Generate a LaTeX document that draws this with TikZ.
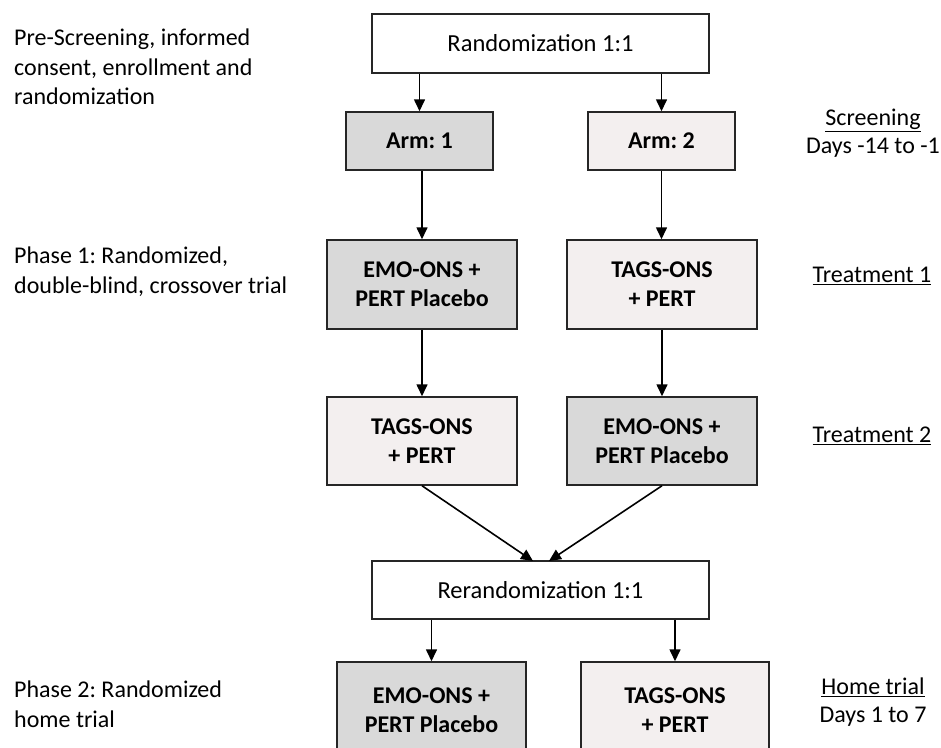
\documentclass[tikz,border=0pt]{standalone}
\usepackage{fontspec}
\setmainfont{Carlito}
\usetikzlibrary{arrows.meta}
\definecolor{darkfill}{HTML}{D9D9D9}
\definecolor{lightfill}{HTML}{F3EFEF}
\frenchspacing
\begin{document}
\begin{tikzpicture}[x=1pt,y=-1pt,
  box/.style={draw=black!85, line width=1.5pt, rectangle, align=center, inner sep=0pt},
  plainbox/.style={box, fill=white, font=\frenchspacing\fontsize{24.5}{29}\selectfont},
  armbox/.style={box, font=\frenchspacing\bfseries\fontsize{24}{29}\selectfont},
  lbl/.style={align=left, anchor=west, inner sep=0pt, font=\frenchspacing\fontsize{24}{29.5}\selectfont},
  rlbl/.style={align=center, inner sep=0pt, font=\frenchspacing\fontsize{24}{28}\selectfont},
  arr/.style={draw=black, line width=1.6pt, -{Triangle[length=12pt,width=11pt]}}]
\useasboundingbox (0,0) rectangle (941,747);
\clip (0,0) rectangle (941,747);
\fill[white] (0,0) rectangle (941,747);

% main boxes
\node[plainbox, minimum width=337pt, minimum height=59pt] (rand) at (540.5,43.5) {Randomization 1:1};
\node[armbox, fill=darkfill, minimum width=147pt, minimum height=58pt] (arm1) at (419.5,141) {Arm: 1};
\node[armbox, fill=lightfill, minimum width=147pt, minimum height=58pt] (arm2) at (661.5,141) {Arm: 2};
\node[armbox, fill=darkfill, minimum width=190pt, minimum height=89pt] (t1l) at (422,284.5) {EMO-ONS +\\PERT Placebo};
\node[armbox, fill=lightfill, minimum width=190pt, minimum height=89pt] (t1r) at (662,284.5) {TAGS-ONS\\+ PERT};
\node[armbox, fill=lightfill, minimum width=190pt, minimum height=88pt] (t2l) at (422,441) {TAGS-ONS\\+ PERT};
\node[armbox, fill=darkfill, minimum width=190pt, minimum height=88pt] (t2r) at (662,441) {EMO-ONS +\\PERT Placebo};
\node[plainbox, minimum width=337pt, minimum height=58pt] (rerand) at (540.5,590) {Rerandomization 1:1};
\node[armbox, fill=darkfill, minimum width=189pt, minimum height=96pt] (hl) at (431.5,710) {EMO-ONS +\\PERT Placebo};
\node[armbox, fill=lightfill, minimum width=188pt, minimum height=96pt] (hr) at (675,710) {TAGS-ONS\\+ PERT};

% connectors
\draw[arr] (rand.south -| arm1) -- (arm1.north);
\draw[arr] (rand.south -| arm2) -- (arm2.north);
\draw[arr] (arm1.south -| t1l) -- (t1l.north);
\draw[arr] (arm2.south) -- (arm2.south |- t1r.north);
\draw[arr] (t1l.south) -- (t2l.north);
\draw[arr] (t1r.south) -- (t2r.north);
\coordinate (m1) at (533,561);
\coordinate (m2) at (549,561);
\draw[arr] (t2l.south) -- (m1);
\draw[arr] (t2r.south) -- (m2);
\draw[arr] (rerand.south -| hl) -- (hl.north);
\draw[arr] (rerand.south -| hr) -- (hr.north);

% left labels
\node[lbl] (pre) at (14,67) {Pre-Screening, informed\\consent, enrollment and\\randomization};
\node[lbl] (ph1) at (14,271.5) {Phase 1: Randomized,\\double-blind, crossover trial};
\node[lbl] (ph2) at (14,704) {Phase 2: Randomized\\home trial};

% right labels
\node[rlbl] (scr) at (873,133.5) {\underline{Screening}\\Days -14 to -1};
\node[rlbl] (tr1) at (872,276) {\underline{Treatment 1}};
\node[rlbl] (tr2) at (872,436) {\underline{Treatment 2}};
\node[rlbl] (home) at (873,702) {\underline{Home trial}\\Days 1 to 7};
\end{tikzpicture}
\end{document}
